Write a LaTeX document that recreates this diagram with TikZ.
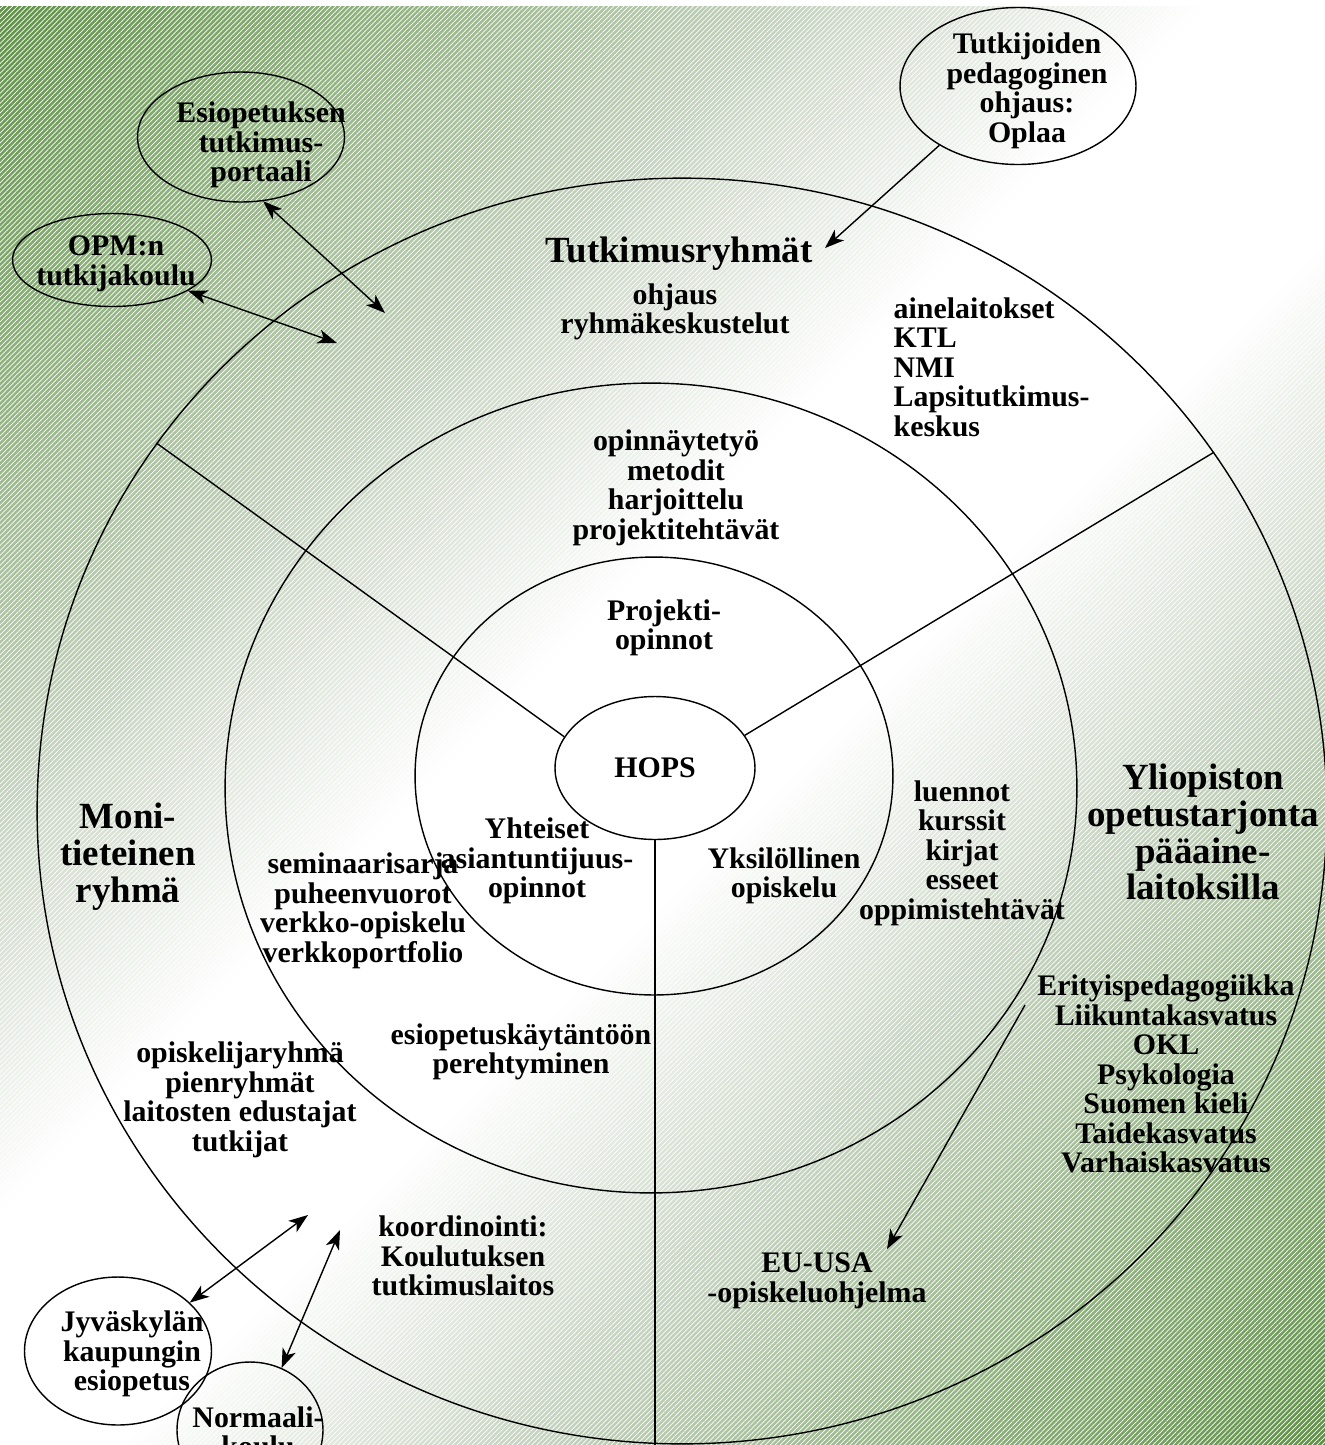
\documentclass[tikz,border=0pt]{standalone}
\usepackage{fontspec}
\setmainfont{Liberation Serif}
\usetikzlibrary{shapes.geometric,arrows.meta,patterns.meta}

\definecolor{leafgreen}{RGB}{86,140,60}
\definecolor{midgreen}{RGB}{138,174,120}
\definecolor{palegreen}{RGB}{198,211,192}
\pgfdeclarehorizontalshading{bgshade}{100bp}{color(0bp)=(leafgreen); color(13bp)=(leafgreen); color(23bp)=(midgreen); color(35bp)=(palegreen); color(45.5bp)=(white); color(54.5bp)=(white); color(65bp)=(palegreen); color(77bp)=(midgreen); color(87bp)=(leafgreen); color(100bp)=(leafgreen)}

\begin{document}
\begin{tikzpicture}[x=0.02cm,y=-0.02cm,line width=0.8pt,
		ring/.style={draw,ellipse,inner sep=0pt},
		txt/.style={align=center,inner sep=0pt,font=\fontsize{17}{16.8}\selectfont\bfseries},
		big/.style={align=center,inner sep=0pt,font=\fontsize{21}{21}\selectfont\bfseries},
		tip/.style={-{Stealth[length=11pt,width=8pt,inset=3pt]}},
		both/.style={{Stealth[length=11pt,width=8pt,inset=3pt]}-{Stealth[length=11pt,width=8pt,inset=3pt]}}]
		\useasboundingbox (0,0) rectangle (1325,1445);
		\clip (0,0) rectangle (1325,1445);
		% background
		\fill[white] (0,0) rectangle (1325,1445);
		\shade[shading=bgshade,shading angle=-45] (0,6) rectangle (1325,1445);
		\fill[pattern={Lines[angle=45,distance=2pt,line width=0.4pt]},pattern color=white,fill opacity=0.25] (0,6) rectangle (1325,1445);

		% rings
		\node[ring,minimum width=25.8cm,minimum height=25.32cm] (outer) at (682,811) {};
		\node[ring,minimum width=17.04cm,minimum height=16.2cm] (middle) at (651,788) {};
		\node[ring,minimum width=9.56cm,minimum height=8.76cm] (inner) at (654,776) {};
		\node[ring,txt,minimum width=4cm,minimum height=2.86cm] (hops) at (655,768) {HOPS};
		\draw (hops.161) -- (outer.145);
		\draw (hops.20) -- (outer.34);
		\draw (hops.south) -- (hops.south |- outer.south);

		% sector texts
		\node[big] (tutk) at (679,254) {Tutkimusryhmät};
		\node[txt] (ohjaus) at (675,312) {ohjaus\\ryhmäkeskustelut};
		\node[txt,align=left,anchor=north west] (laitokset) at (893,297) {ainelaitokset\\KTL\\NMI\\Lapsitutkimus-\\keskus};
		\node[txt] (opinn) at (676,488) {opinnäytetyö\\metodit\\harjoittelu\\projektitehtävät};
		\node[txt] (projekti) at (664,628) {Projekti-\\opinnot};
		\node[txt] (yhteiset) at (537,861) {Yhteiset\\asiantuntijuus-\\opinnot};
		\node[txt] (yksil) at (784,876) {Yksilöllinen\\opiskelu};
		\node[txt] (luennot) at (962,853) {luennot\\kurssit\\kirjat\\esseet\\oppimistehtävät};
		\node[big] (yliop) at (1203,832) {Yliopiston\\opetustarjonta\\pääaine-\\laitoksilla};
		\node[big] (moni) at (128,857) {Moni-\\tieteinen\\ryhmä};
		\node[txt] (semi) at (363,911) {seminaarisarja\\puheenvuorot\\verkko-opiskelu\\verkkoportfolio};
		\node[txt] (esiop) at (521,1052) {esiopetuskäytäntöön\\perehtyminen};
		\node[txt] (ryhma) at (240,1100) {opiskelijaryhmä\\pienryhmät\\laitosten edustajat\\tutkijat};
		\node[txt] (koord) at (463,1256) {koordinointi:\\Koulutuksen\\tutkimuslaitos};
		\node[txt] (eri) at (1166,1074) {Erityispedagogiikka\\Liikuntakasvatus\\OKL\\Psykologia\\Suomen kieli\\Taidekasvatus\\Varhaiskasvatus};
		\node[txt] (eu) at (817,1281) {EU-USA\\-opiskeluohjelma};

		% partners outside
		\node[ring,minimum width=4.14cm,minimum height=2.6cm] (portaali) at (241,137) {};
		\node[txt] at (261,145) {Esiopetuksen\\tutkimus-\\portaali};
		\node[ring,minimum width=3.98cm,minimum height=1.86cm] (opm) at (112,260) {};
		\node[txt] at (116,264) {OPM:n\\tutkijakoulu};
		\node[ring,minimum width=4.72cm,minimum height=3.14cm] (oplaa) at (1018,86) {};
		\node[txt] at (1027,91) {Tutkijoiden\\pedagoginen\\ohjaus:\\Oplaa};
		\node[ring,minimum width=3.74cm,minimum height=2.96cm] (jkl) at (118,1351) {};
		\node[txt] at (132,1354) {Jyväskylän\\kaupungin\\esiopetus};
		\node[ring,minimum width=2.92cm,minimum height=2.72cm] (normaali) at (250,1430) {};
		\node[txt] at (258,1432) {Normaali-\\koulu};

		% arrows
		\coordinate (tutk-in) at (825,248);
		\coordinate (portaali-in) at (385,313);
		\coordinate (opm-in) at (337,343);
		\coordinate (jkl-in) at (308,1215);
		\coordinate (normaali-in) at (340,1230);
		\coordinate (eri-out) at (1025,1005);
		\coordinate (eu-in) at (887,1249);
		\draw[tip] (oplaa.217) -- (tutk-in);
		\draw[both] (portaali.289) -- (portaali-in);
		\draw[both] (opm.338) -- (opm-in);
		\draw[both] (jkl.34) -- (jkl-in);
		\draw[both] (normaali.63) -- (normaali-in);
		\draw[tip] (eri-out) -- (eu-in);
	\end{tikzpicture}
\end{document}
